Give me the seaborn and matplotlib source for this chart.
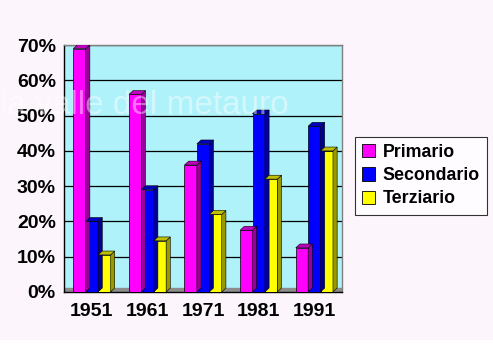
import pandas as pd
import matplotlib.pyplot as plt
import seaborn as sns
from matplotlib.patches import Polygon, Rectangle, Patch
from matplotlib.ticker import PercentFormatter, FixedLocator
from matplotlib.colors import to_rgb

# dati (percentuale di occupati per settore)
anni = ["1951", "1961", "1971", "1981", "1991"]
primario = [69, 56, 36, 17.5, 12.5]
secondario = [20, 29, 42, 50.5, 47]
terziario = [10.5, 14.5, 22, 32, 40]
settori = ["Primario", "Secondario", "Terziario"]
colori = ["#ff00ff", "#0000ff", "#ffff00"]

df = pd.DataFrame({
    "Anno": anni * 3,
    "Settore": [s for s in settori for _ in anni],
    "Valore": primario + secondario + terziario,
})

sns.set_style("white")
plt.rcParams['font.family'] = ['Liberation Sans', 'DejaVu Sans']
plt.rcParams['text.color'] = 'black'
plt.rcParams['xtick.color'] = 'black'
plt.rcParams['ytick.color'] = 'black'

fig = plt.figure(figsize=(4.93, 3.64), dpi=100)
fig.patch.set_facecolor("#fcf5fc")
fig.patches.append(Rectangle((0, 0), 1, 24 / 364, transform=fig.transFigure,
                             facecolor="white", edgecolor="none", zorder=0))
ax = fig.add_axes([0.13, 0.198, 0.564, 0.678])
ax.set_facecolor("#b0f2fa")

sns.barplot(data=df, x="Anno", y="Valore", hue="Settore", palette=colori,
            saturation=1, width=0.67, gap=0, edgecolor="black", linewidth=0.5,
            legend=False, ax=ax, zorder=3)
barre = list(ax.patches)

ax.set_ylim(0, 70)
ax.set_xlim(-0.5, len(anni) - 0.5)
dx, dy = 0.075, 1.1

# pavimento grigio
ax.axhspan(0, dy, color="#8c8c8c", zorder=2)

# effetto 3D: lati e tetti più scuri
for p in barre:
    h = p.get_height()
    if h <= 0:
        continue
    x0 = p.get_x()
    x1 = x0 + p.get_width()
    base = to_rgb(p.get_facecolor())
    side = tuple(c * 0.6 for c in base)
    top = tuple(c * 0.75 for c in base)
    ax.add_patch(Polygon([(x1, 0), (x1 + dx, dy), (x1 + dx, h + dy), (x1, h)],
                         closed=True, facecolor=side, edgecolor="black",
                         linewidth=0.4, zorder=3))
    ax.add_patch(Polygon([(x0, h), (x0 + dx, h + dy), (x1 + dx, h + dy), (x1, h)],
                         closed=True, facecolor=top, edgecolor="black",
                         linewidth=0.4, zorder=3))

ax.yaxis.set_major_locator(FixedLocator(range(0, 71, 10)))
ax.yaxis.set_major_formatter(PercentFormatter(xmax=100, decimals=0))
ax.grid(axis="y", color="black", linewidth=0.9, zorder=1)
ax.set_axisbelow(True)

ax.set_xlabel("")
ax.set_ylabel("")
ax.tick_params(axis="x", which="major", length=0, pad=8, labelsize=14)
ax.set_xticks([i + 0.5 for i in range(len(anni) - 1)], minor=True)
ax.tick_params(axis="x", which="minor", length=4, direction="out", color="black")
ax.tick_params(axis="y", length=4, direction="out", color="black", labelsize=14, pad=2)
for lab in ax.get_xticklabels() + ax.get_yticklabels():
    lab.set_fontweight("bold")

for s in ["left", "bottom"]:
    ax.spines[s].set_color("black")
    ax.spines[s].set_linewidth(1)
for s in ["top", "right"]:
    ax.spines[s].set_color("#808080")
    ax.spines[s].set_linewidth(1)

# filigrana
fig.text(0.0, 0.71, "la valle del metauro", fontsize=24, color="white",
         alpha=0.45, ha="left", va="center", zorder=10)

handles = [Patch(facecolor=c, edgecolor="black", linewidth=0.6) for c in colori]
leg = fig.legend(handles, settori, loc="upper left", bbox_to_anchor=(0.72, 0.624),
                 borderaxespad=0, frameon=True, fancybox=False,
                 handlelength=0.75, handleheight=0.75,
                 handletextpad=0.4, borderpad=0.4, labelspacing=0.35,
                 prop={"weight": "bold", "size": 12.8})
leg.get_frame().set_edgecolor("black")
leg.get_frame().set_linewidth(0.8)
leg.get_frame().set_facecolor("white")

fig.savefig("out.png", dpi=100, facecolor=fig.get_facecolor())
